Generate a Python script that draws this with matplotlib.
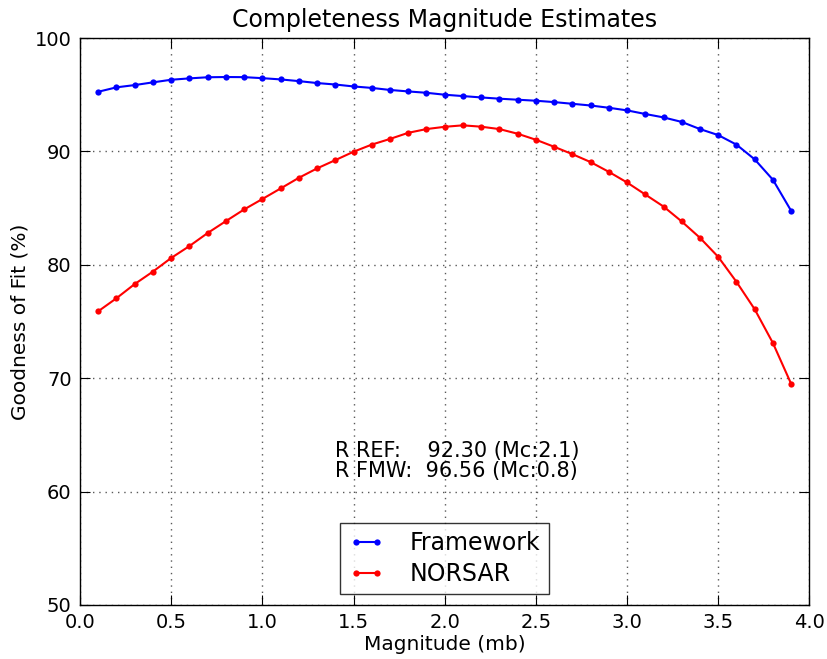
import matplotlib.pyplot as plt
import numpy as np

# Data
magnitude = [round(0.1 * i, 1) for i in range(1, 40)]
framework = [95.26, 95.65, 95.85, 96.09, 96.32, 96.44, 96.54, 96.56, 96.55, 96.46,
             96.35, 96.2, 96.03, 95.9, 95.73, 95.6, 95.42, 95.29, 95.17, 95.0,
             94.88, 94.76, 94.65, 94.56, 94.47, 94.35, 94.2, 94.05, 93.85, 93.62,
             93.3, 93.0, 92.6, 91.97, 91.44, 90.6, 89.3, 87.5, 84.76]
norsar = [75.9, 77.05, 78.3, 79.4, 80.6, 81.65, 82.8, 83.85, 84.88, 85.8,
          86.73, 87.67, 88.5, 89.23, 89.97, 90.6, 91.1, 91.64, 91.97, 92.17,
          92.3, 92.18, 91.97, 91.56, 91.03, 90.41, 89.76, 89.06, 88.2, 87.26,
          86.2, 85.14, 83.82, 82.38, 80.7, 78.5, 76.08, 73.1, 69.5]
series_names = ['Framework', 'NORSAR']
annotation = 'R REF:    92.30 (Mc:2.1)\nR FMW:  96.56 (Mc:0.8)'

fig = plt.figure(figsize=(8.27, 6.59), dpi=100)
ax = fig.add_axes([0.0967, 0.082, 0.882, 0.8603])

ax.plot(magnitude, framework, color='blue', marker='o', markersize=4.5,
        markeredgewidth=0, linewidth=1.5, label=series_names[0])
ax.plot(magnitude, norsar, color='red', marker='o', markersize=4.5,
        markeredgewidth=0, linewidth=1.5, label=series_names[1])

ax.set_xlim(0, 4)
ax.set_ylim(50, 100)
ax.set_xticks(np.arange(0, 4.01, 0.5))
ax.set_yticks(np.arange(50, 101, 10))
ax.tick_params(direction='in', top=True, right=True, labelsize=14, length=7, pad=6)
ax.grid(True, color='0.35', linestyle=(0, (1, 3.5)), linewidth=1.0)

ax.set_title('Completeness Magnitude Estimates', fontsize=17, pad=8)
ax.set_xlabel('Magnitude (mb)', fontsize=14.5, labelpad=2)
ax.set_ylabel('Goodness of Fit (%)', fontsize=14.5, labelpad=4)

ax.text(1.4, 62.7, annotation, fontsize=15, va='center', ha='left', linespacing=1.0)

leg = ax.legend(loc='lower center', bbox_to_anchor=(0.5, 0.0), fontsize=17,
                fancybox=False, edgecolor='black', borderaxespad=0.45,
                handlelength=1.5, handletextpad=1.1, numpoints=2,
                borderpad=0.35, labelspacing=0.3)
leg.get_frame().set_linewidth(1.0)

for s in ax.spines.values():
    s.set_linewidth(1.0)

fig.savefig('out.png', dpi=100)
